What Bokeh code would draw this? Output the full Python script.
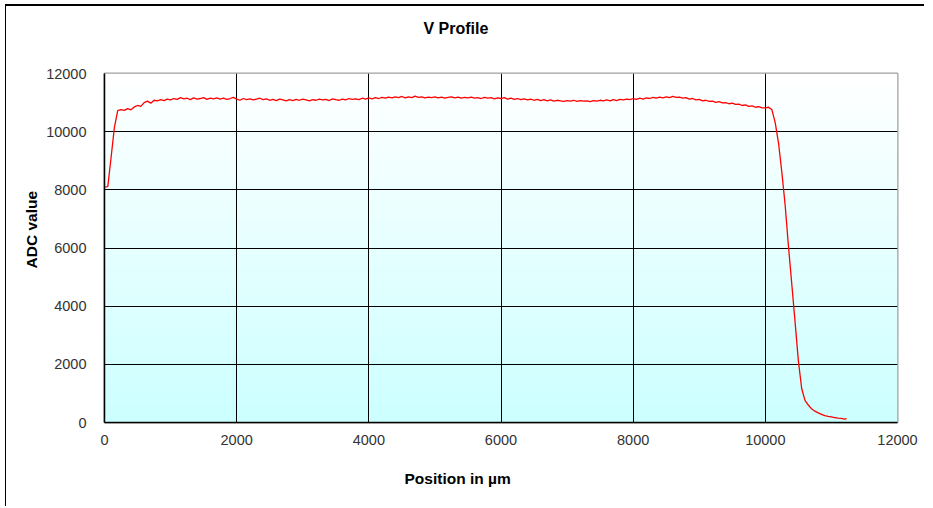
import numpy as np
from bokeh.plotting import figure
from bokeh.models import Range1d, Title, FixedTicker
from bokeh.embed import file_html
from bokeh.resources import INLINE

# ---- data ----
positions = [
    0, 50, 100, 150, 200, 250, 300, 350, 400, 450,
    500, 550, 600, 650, 700, 750, 800, 850, 900, 950,
    1000, 1050, 1100, 1150, 1200, 1250, 1300, 1350, 1400, 1450,
    1500, 1550, 1600, 1650, 1700, 1750, 1800, 1850, 1900, 1950,
    2000, 2050, 2100, 2150, 2200, 2250, 2300, 2350, 2400, 2450,
    2500, 2550, 2600, 2650, 2700, 2750, 2800, 2850, 2900, 2950,
    3000, 3050, 3100, 3150, 3200, 3250, 3300, 3350, 3400, 3450,
    3500, 3550, 3600, 3650, 3700, 3750, 3800, 3850, 3900, 3950,
    4000, 4050, 4100, 4150, 4200, 4250, 4300, 4350, 4400, 4450,
    4500, 4550, 4600, 4650, 4700, 4750, 4800, 4850, 4900, 4950,
    5000, 5050, 5100, 5150, 5200, 5250, 5300, 5350, 5400, 5450,
    5500, 5550, 5600, 5650, 5700, 5750, 5800, 5850, 5900, 5950,
    6000, 6050, 6100, 6150, 6200, 6250, 6300, 6350, 6400, 6450,
    6500, 6550, 6600, 6650, 6700, 6750, 6800, 6850, 6900, 6950,
    7000, 7050, 7100, 7150, 7200, 7250, 7300, 7350, 7400, 7450,
    7500, 7550, 7600, 7650, 7700, 7750, 7800, 7850, 7900, 7950,
    8000, 8050, 8100, 8150, 8200, 8250, 8300, 8350, 8400, 8450,
    8500, 8550, 8600, 8650, 8700, 8750, 8800, 8850, 8900, 8950,
    9000, 9050, 9100, 9150, 9200, 9250, 9300, 9350, 9400, 9450,
    9500, 9550, 9600, 9650, 9700, 9750, 9800, 9850, 9900, 9950,
    10000, 10050, 10100, 10150, 10200, 10250, 10300, 10350, 10400, 10450,
    10500, 10550, 10600, 10650, 10700, 10750, 10800, 10850, 10900, 10950,
    11000, 11050, 11100, 11150, 11200, 11230,
]

adc_values = [
    8100, 8110, 9120, 10150, 10720, 10760, 10730, 10790, 10750, 10850,
    10900, 10870, 11000, 11050, 10980, 11080, 11060, 11100, 11070, 11120,
    11090, 11140, 11110, 11170, 11130, 11150, 11100, 11160, 11120, 11140,
    11170, 11110, 11150, 11130, 11160, 11120, 11150, 11110, 11140, 11180,
    11120, 11080, 11140, 11100, 11130, 11090, 11120, 11150, 11100, 11130,
    11080, 11110, 11070, 11120, 11090, 11060, 11100, 11070, 11110, 11080,
    11120, 11090, 11060, 11100, 11080, 11120, 11090, 11110, 11070, 11130,
    11100, 11080, 11120, 11090, 11140, 11110, 11130, 11100, 11150, 11120,
    11160, 11130, 11170, 11140, 11180, 11150, 11190, 11160, 11200, 11170,
    11210, 11160, 11200, 11170, 11220, 11180, 11200, 11160, 11190, 11170,
    11200, 11160, 11190, 11150, 11180, 11200, 11160, 11190, 11150, 11180,
    11160, 11190, 11150, 11170, 11140, 11180, 11150, 11170, 11130, 11160,
    11140, 11170, 11120, 11150, 11110, 11140, 11100, 11130, 11090, 11120,
    11080, 11110, 11070, 11100, 11060, 11090, 11050, 11080, 11060, 11040,
    11070, 11050, 11080, 11040, 11070, 11050, 11060, 11030, 11070, 11050,
    11080, 11060, 11090, 11060, 11100, 11070, 11110, 11090, 11120, 11100,
    11140, 11110, 11150, 11120, 11160, 11140, 11180, 11150, 11190, 11160,
    11200, 11170, 11210, 11180, 11190, 11150, 11170, 11120, 11140, 11090,
    11110, 11060, 11080, 11040, 11050, 11010, 11030, 10990, 11000, 10960,
    10980, 10940, 10950, 10900, 10920, 10870, 10890, 10840, 10860, 10820,
    10820, 10840, 10750, 10300, 9600, 8600, 7470, 6060, 4760, 3460,
    2120, 1170, 760, 600, 470, 390, 330, 280, 240, 210,
    190, 170, 150, 145, 120, 135,
]

x_ticks = [0, 2000, 4000, 6000, 8000, 10000, 12000]
y_ticks = [0, 2000, 4000, 6000, 8000, 10000, 12000]

chart_title = "V Profile"
x_title = "Position in µm"
y_title = "ADC value"

FONT = "Liberation Sans"

p = figure(
    width=919, height=502,
    output_backend="svg", toolbar_location=None,
    x_range=Range1d(x_ticks[0], x_ticks[-1]),
    y_range=Range1d(y_ticks[0], y_ticks[-1]),
    min_border_left=98, min_border_right=28,
    min_border_top=67, min_border_bottom=86,
    background_fill_color="white", border_fill_color="white",
)
p.styles = {"border-top": "2px solid black", "border-left": "1px solid black",
            "margin-left": "5px", "margin-top": "4px"}

# gradient plot-area background (white at top -> light cyan at bottom)
n = 256
t = np.linspace(0.0, 1.0, n)
img = np.empty((n, 1), dtype=np.uint32)
view = img.view(dtype=np.uint8).reshape((n, 1, 4))
view[:, 0, 0] = np.round(204 + 51 * t).astype(np.uint8)
view[:, 0, 1] = 255
view[:, 0, 2] = 255
view[:, 0, 3] = 255
bg = p.image_rgba(image=[img], x=x_ticks[0], y=y_ticks[0],
                  dw=x_ticks[-1] - x_ticks[0], dh=y_ticks[-1] - y_ticks[0])
bg.level = "image"

p.line(positions, adc_values, line_color="#ff0000", line_width=1.3)

# grids
for g in (p.xgrid, p.ygrid):
    g.grid_line_color = "black"
    g.grid_line_width = 1
    g.grid_line_alpha = 1.0

p.outline_line_color = "#a0a0a0"
p.outline_line_width = 2

p.xaxis.ticker = FixedTicker(ticks=x_ticks)
p.yaxis.ticker = FixedTicker(ticks=y_ticks)
for ax in (p.xaxis[0], p.yaxis[0]):
    ax.major_tick_line_color = None
    ax.minor_tick_line_color = None
    ax.axis_line_color = "black"
    ax.axis_line_width = 1.5
    ax.major_label_text_font = FONT
    ax.major_label_text_font_size = "14.5px"
    ax.major_label_text_color = "#333333"
p.xaxis.major_label_standoff = 6
p.yaxis.major_label_standoff = 12

# spacer between the frame and the chart title (title stays outermost)
spacer = Title(text=" ", text_font_size="1px", text_color="white", standoff=34)
p.add_layout(spacer, "above")

p.title.text = chart_title
p.title.align = "left"
p.title.offset = 319
p.title.text_font = FONT
p.title.text_font_size = "16px"
p.title.text_font_style = "bold"
p.title.text_color = "black"
p.title.standoff = 0

xt = Title(text=x_title, align="left", offset=300, text_font=FONT,
           text_font_size="15.5px", text_font_style="bold", text_color="black",
           standoff=40)
p.add_layout(xt, "below")
yt = Title(text=y_title, align="left", offset=154, text_font=FONT,
           text_font_size="15.5px", text_font_style="bold", text_color="black",
           standoff=8)
p.add_layout(yt, "left")

open("out.html", "w").write(file_html(p, INLINE))
